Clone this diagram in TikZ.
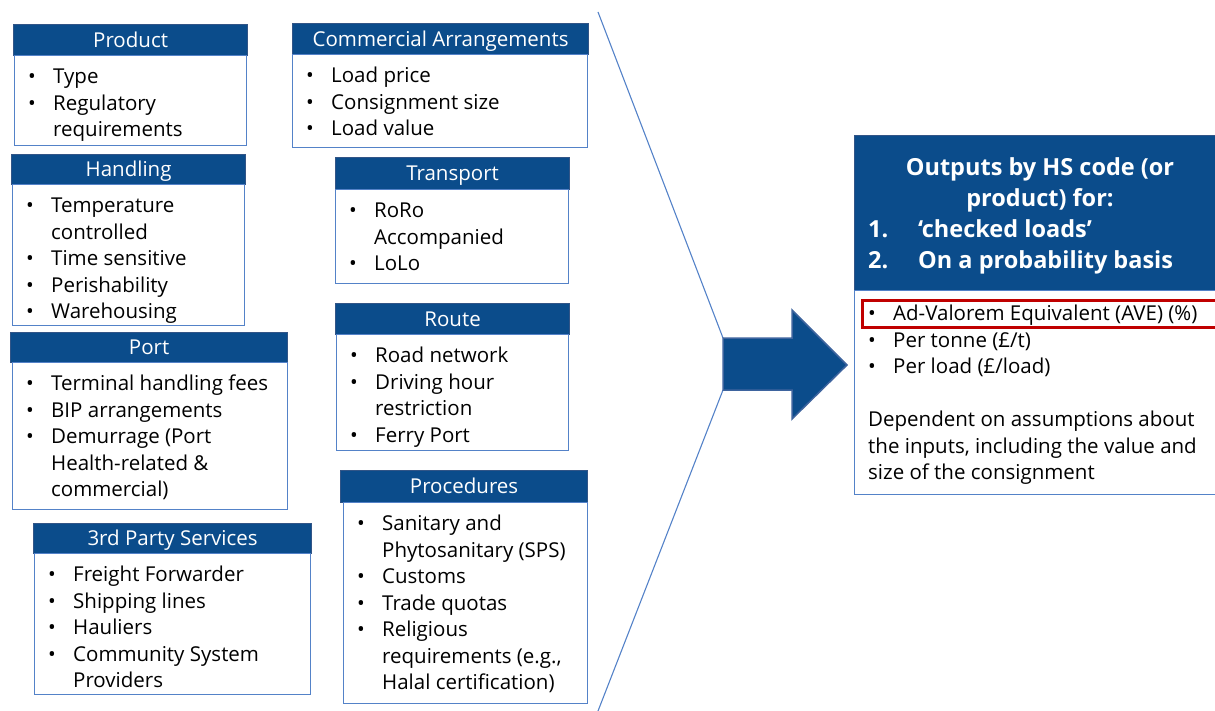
\documentclass[tikz,border=0pt]{standalone}
\usepackage{fontspec}
\setmainfont{Open Sans}
\usetikzlibrary{positioning}
\definecolor{hdrblue}{RGB}{11,76,139}
\definecolor{hdrline}{RGB}{50,85,135}
\definecolor{arrline}{RGB}{62,100,158}
\definecolor{boxline}{RGB}{84,130,200}
\definecolor{markred}{RGB}{192,0,0}
\newcommand{\boxfont}{\fontsize{20.5}{26.5}\selectfont}
\newcommand{\outfont}{\fontsize{23.5}{31}\selectfont\bfseries}
\newcommand{\bitem}[1]{\strut\makebox[25pt][l]{\textbullet}#1}
\newcommand{\bcont}[1]{\strut\hspace*{25pt}#1}
\begin{document}
\begin{tikzpicture}[x=1pt,y=-1pt,
  hdr/.style={draw=hdrline, fill=hdrblue, text=white, line width=1.2pt, inner sep=0pt,
    anchor=north west, font=\boxfont, text height=14.5pt, text depth=0pt},
  bodybox/.style={draw=boxline, line width=1pt, fill=white, inner sep=0pt, anchor=north west},
  items/.style={anchor=north west, align=left, inner sep=0pt, font=\boxfont},
  funnel/.style={draw=boxline, line width=1.1pt}]
\useasboundingbox (0,0) rectangle (1215,711);

% left column
\node[hdr, minimum width=234, minimum height=31] (prodh) at (13,24) {Product};
\node[bodybox, minimum width=232, minimum height=90] (prodb) at (14,55) {};
\node[items] (prodl) at ([xshift=14,yshift=-10]prodb.north west)
  {\bitem{Type}\\ \bitem{Regulatory}\\ \bcont{requirements}};

\node[hdr, minimum width=234, minimum height=30] (handh) at (11,154) {Handling};
\node[bodybox, minimum width=232, minimum height=141] (handb) at (12,184) {};
\node[items] (handl) at ([xshift=14,yshift=-10]handb.north west)
  {\bitem{Temperature}\\ \bcont{controlled}\\ \bitem{Time sensitive}\\ \bitem{Perishability}\\ \bitem{Warehousing}};

\node[hdr, minimum width=277, minimum height=30] (porth) at (10,332) {Port};
\node[bodybox, minimum width=275, minimum height=147] (portb) at (12,362) {};
\node[items] (portl) at ([xshift=14,yshift=-10]portb.north west)
  {\bitem{Terminal handling fees}\\ \bitem{BIP arrangements}\\ \bitem{Demurrage (Port}\\ \bcont{Health-related \&}\\ \bcont{commercial)}};

\node[hdr, minimum width=278, minimum height=30] (partyh) at (33,523) {3rd Party Services};
\node[bodybox, minimum width=276, minimum height=141] (partyb) at (34,553) {};
\node[items] (partyl) at ([xshift=14,yshift=-10]partyb.north west)
  {\bitem{Freight Forwarder}\\ \bitem{Shipping lines}\\ \bitem{Hauliers}\\ \bitem{Community System}\\ \bcont{Providers}};

% middle column
\node[hdr, minimum width=296, minimum height=31] (commh) at (292,23) {Commercial Arrangements};
\node[bodybox, minimum width=295, minimum height=93] (commb) at (292,54) {};
\node[items] (comml) at ([xshift=14,yshift=-10]commb.north west)
  {\bitem{Load price}\\ \bitem{Consignment size}\\ \bitem{Load value}};

\node[hdr, minimum width=234, minimum height=32] (transh) at (335,157) {Transport};
\node[bodybox, minimum width=233, minimum height=94] (transb) at (335,189) {};
\node[items] (transl) at ([xshift=14,yshift=-10]transb.north west)
  {\bitem{RoRo}\\ \bcont{Accompanied}\\ \bitem{LoLo}};

\node[hdr, minimum width=234, minimum height=31] (routeh) at (335,303) {Route};
\node[bodybox, minimum width=232, minimum height=116] (routeb) at (336,334) {};
\node[items] (routel) at ([xshift=14,yshift=-10]routeb.north west)
  {\bitem{Road network}\\ \bitem{Driving hour}\\ \bcont{restriction}\\ \bitem{Ferry Port}};

\node[hdr, minimum width=247, minimum height=32] (proch) at (340,470) {Procedures};
\node[bodybox, minimum width=244, minimum height=201] (procb) at (343,502) {};
\node[items] (procl) at ([xshift=14,yshift=-10]procb.north west)
  {\bitem{Sanitary and}\\ \bcont{Phytosanitary (SPS)}\\ \bitem{Customs}\\ \bitem{Trade quotas}\\ \bitem{Religious}\\ \bcont{requirements (e.g.,}\\ \bcont{Halal certification)}};

% funnel and arrow
\coordinate (funtop) at (598,12);
\coordinate (funbot) at (598,711);
\coordinate (arrtl) at (723,338);
\coordinate (arrbl) at (723,390);
\draw[funnel] (funtop) -- (arrtl);
\draw[funnel] (arrbl) -- (funbot);
\draw[draw=arrline, fill=hdrblue, line width=1.5pt] (arrtl) -- (792,338) -- (792,310) -- (847,365)
  -- (792,419) -- (792,390) -- (arrbl) -- cycle;

% outputs
\node[hdr, minimum width=372, minimum height=155] (outh) at (854,135) {};
\node[bodybox, minimum width=372, minimum height=204] (outb) at (854,290) {};
\node[anchor=north, align=center, inner sep=0pt, text=white, font=\outfont] (outt) at (1040,154)
  {\strut Outputs by HS code (or\\ \strut product) for:};
\node[anchor=north west, align=left, inner sep=0pt, text=white, font=\outfont] (outn) at (868,216)
  {\strut\makebox[50pt][l]{1.}‘checked loads’\\ \strut\makebox[50pt][l]{2.}On a probability basis};
\node[draw=markred, line width=2.5pt, minimum width=360, minimum height=27, inner sep=0pt, anchor=north west] (avebox) at (861,299) {};
\node[items] (outl) at ([xshift=14,yshift=-12]outb.north west)
  {\bitem{Ad-Valorem Equivalent (AVE) (\%)}\\ \bitem{Per tonne (£/t)}\\ \bitem{Per load (£/load)}\\ \strut\\
   \strut Dependent on assumptions about\\ \strut the inputs, including the value and\\ \strut size of the consignment};
\end{tikzpicture}
\end{document}
